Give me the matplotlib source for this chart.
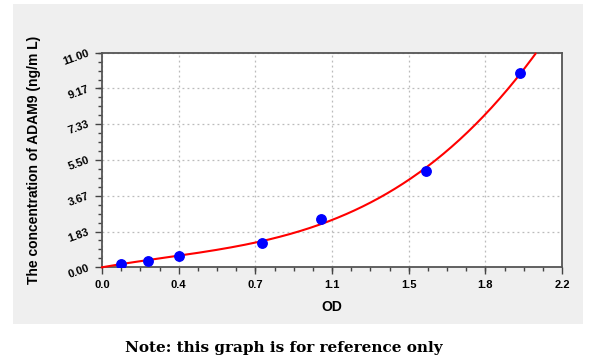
"""plot.py - ADAM9 ELISA standard curve (OD vs concentration)."""
import numpy as np
import matplotlib
matplotlib.use("Agg")
import matplotlib.pyplot as plt
from matplotlib.ticker import FixedLocator, AutoMinorLocator

# standard points
od = [0.089, 0.218, 0.370, 0.765, 1.048, 1.550, 2.000]
conc = [0.15, 0.31, 0.59, 1.22, 2.48, 4.95, 9.96]

x_ticks = [0.0, 0.3667, 0.7333, 1.1, 1.4667, 1.8333, 2.2]
x_labels = ["0.0", "0.4", "0.7", "1.1", "1.5", "1.8", "2.2"]
y_ticks = [0.0, 1.8333, 3.6667, 5.5, 7.3333, 9.1667, 11.0]
y_labels = ["0.00", "1.83", "3.67", "5.50", "7.33", "9.17", "11.00"]

# cubic through the origin, least squares on the standards
xs = np.asarray(od)
A = np.column_stack([xs, xs ** 2, xs ** 3])
coef, *_ = np.linalg.lstsq(A, np.asarray(conc), rcond=None)
cx = np.linspace(0, 2.2, 400)
cy = coef[0] * cx + coef[1] * cx ** 2 + coef[2] * cx ** 3
keep = cy <= 11.0
cx, cy = cx[keep], cy[keep]

W, H = 600, 362
fig = plt.figure(figsize=(W / 100, H / 100), dpi=100)
fig.patch.set_facecolor("white")

# grey panel behind the chart
bg = fig.add_axes([13 / W, 1 - 324 / H, 570 / W, 320 / H], zorder=-1)
bg.set_facecolor("#efefef")
bg.set_xticks([]); bg.set_yticks([])
for s in bg.spines.values():
    s.set_visible(False)

ax = fig.add_axes([102 / W, 1 - 267.3 / H, 460 / W, 214.6 / H])
ax.set_facecolor("white")
ax.set_xlim(0, 2.2)
ax.set_ylim(0, 11)

ax.plot(cx, cy, "-", color="#ff0000", lw=1.5, zorder=3, clip_on=False)
ax.plot(od, conc, "o", color="#0000ff", ms=6.8, zorder=4)

ax.xaxis.set_major_locator(FixedLocator(x_ticks))
ax.yaxis.set_major_locator(FixedLocator(y_ticks))
ax.set_xticklabels(x_labels, fontsize=8, fontweight="bold", family="Liberation Sans")
ax.set_yticklabels(y_labels, fontsize=8, fontweight="bold", family="Liberation Sans",
                   rotation=20, ha="right", va="center", rotation_mode="anchor")
ax.xaxis.set_minor_locator(AutoMinorLocator(4))
ax.yaxis.set_minor_locator(AutoMinorLocator(4))
ax.tick_params(which="both", direction="out", color="#444444", width=1.0)
ax.tick_params(which="major", length=5, pad=4.5)
ax.tick_params(which="minor", length=3)
ax.tick_params(axis="x", pad=4)

for s in ax.spines.values():
    s.set_color("#555555")
    s.set_linewidth(1.3)

ax.grid(True, which="major", linestyle=(0, (1.5, 2.5)), color="#bbbbbb", lw=0.9)

ax.set_xlabel("OD", fontsize=10, fontweight="bold", family="Liberation Sans", labelpad=7)
ax.set_ylabel("The concentration of ADAM9 (ng/m L)", fontsize=10, fontweight="bold",
              family="Liberation Sans", labelpad=15)

fig.text(284 / W, 1 - 348 / H, "Note: this graph is for reference only",
         ha="center", va="center", fontsize=11, fontweight="bold", family="DejaVu Serif")

fig.savefig("out.png", dpi=100)
